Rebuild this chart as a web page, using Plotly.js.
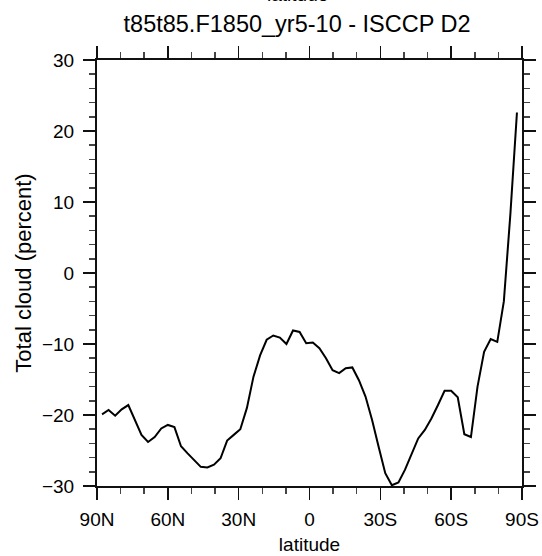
<!DOCTYPE html>
<html>
<head>
<meta charset="utf-8">
<script src="https://cdn.plot.ly/plotly-3.0.1.min.js"></script>
<style>html,body{margin:0;padding:0;background:#fff;}#chart{width:542px;height:556px;}</style>
</head>
<body>
<div id="chart"></div>
<script>
var latitude = [87.86, 85.10, 82.31, 79.53, 76.74, 73.95, 71.16, 68.37, 65.58, 62.79,
  60.00, 57.21, 54.42, 51.63, 48.84, 46.04, 43.25, 40.46, 37.67, 34.88,
  32.09, 29.30, 26.51, 23.72, 20.93, 18.14, 15.35, 12.56, 9.77, 6.98,
  4.19, 1.40, -1.40, -4.19, -6.98, -9.77, -12.56, -15.35, -18.14, -20.93,
  -23.72, -26.51, -29.30, -32.09, -34.88, -37.67, -40.46, -43.25, -46.04, -48.84,
  -51.63, -54.42, -57.21, -60.00, -62.79, -65.58, -68.37, -71.16, -73.95, -76.74,
  -79.53, -82.31, -85.10, -87.86];
var totalCloud = [-19.9, -19.3, -20.1, -19.2, -18.6, -20.6, -22.8, -23.8, -23.1, -21.9,
  -21.4, -21.7, -24.4, -25.4, -26.3, -27.3, -27.4, -27.0, -26.1, -23.6,
  -22.8, -22.0, -19.0, -14.6, -11.6, -9.4, -8.8, -9.1, -10.0, -8.1,
  -8.3, -9.9, -9.8, -10.6, -12.0, -13.7, -14.1, -13.4, -13.3, -15.1,
  -17.4, -20.7, -24.5, -28.2, -29.9, -29.5, -27.7, -25.6, -23.3, -22.1,
  -20.5, -18.6, -16.6, -16.6, -17.5, -22.7, -23.1, -16.0, -11.1, -9.3,
  -9.7, -4.0, 8.4, 22.6];
var xTickVals = [90, 60, 30, 0, -30, -60, -90];
var xTickText = ['90N', '60N', '30N', '0', '30S', '60S', '90S'];
var yTickVals = [-30, -20, -10, 0, 10, 20, 30];
var titleText = 't85t85.F1850_yr5-10 - ISCCP D2';
var xTitle = 'latitude';
var yTitle = 'Total cloud (percent)';

var FONT = 'Liberation Sans, Arial, Helvetica, sans-serif';

var trace = {
  x: latitude, y: totalCloud, type: 'scatter', mode: 'lines',
  line: {color: '#000', width: 2}, hoverinfo: 'skip'
};

var axisCommon = {
  showgrid: false, zeroline: false, showline: true, linecolor: '#111', linewidth: 2,
  ticks: 'outside', ticklen: 12, tickwidth: 1.5, tickcolor: '#111', mirror: 'ticks',
  tickfont: {family: FONT, size: 19, color: '#000'}
};

var layout = {
  width: 542, height: 556,
  margin: {l: 96.5, r: 19.5, t: 60, b: 70, pad: 0},
  paper_bgcolor: '#fff', plot_bgcolor: '#fff',
  showlegend: false,
  title: {text: titleText, font: {family: FONT, size: 23.5, color: '#000'},
          xref: 'paper', x: 0.4707, xanchor: 'center', yref: 'container', y: 0.958, yanchor: 'middle'},
  xaxis: Object.assign({}, axisCommon, {
    range: [90, -90], tickmode: 'array', tickvals: xTickVals, ticktext: xTickText,
    ticklabelstandoff: 3,
    minor: {tickmode: 'linear', tick0: 0, dtick: 10, ticks: 'outside', ticklen: 6, tickwidth: 1.5, tickcolor: '#444'},
    title: {text: xTitle, font: {family: FONT, size: 19, color: '#000'}, standoff: 9}
  }),
  yaxis: Object.assign({}, axisCommon, {
    range: [-30, 30], tickmode: 'array', tickvals: yTickVals,
    ticklabelstandoff: 5,
    minor: {tickmode: 'linear', tick0: 0, dtick: 2, ticks: 'outside', ticklen: 6, tickwidth: 1.5, tickcolor: '#444'},
    title: {text: yTitle, font: {family: FONT, size: 22, color: '#000'}, standoff: 4}
  }),
  annotations: [{
    text: 'latitude', xref: 'paper', yref: 'paper', x: 0.4707, y: 1.154,
    xanchor: 'center', yanchor: 'middle', showarrow: false,
    font: {family: FONT, size: 19, color: '#000'}
  }]
};

Plotly.newPlot('chart', [trace], layout, {displayModeBar: false, staticPlot: true});
</script>
</body>
</html>
